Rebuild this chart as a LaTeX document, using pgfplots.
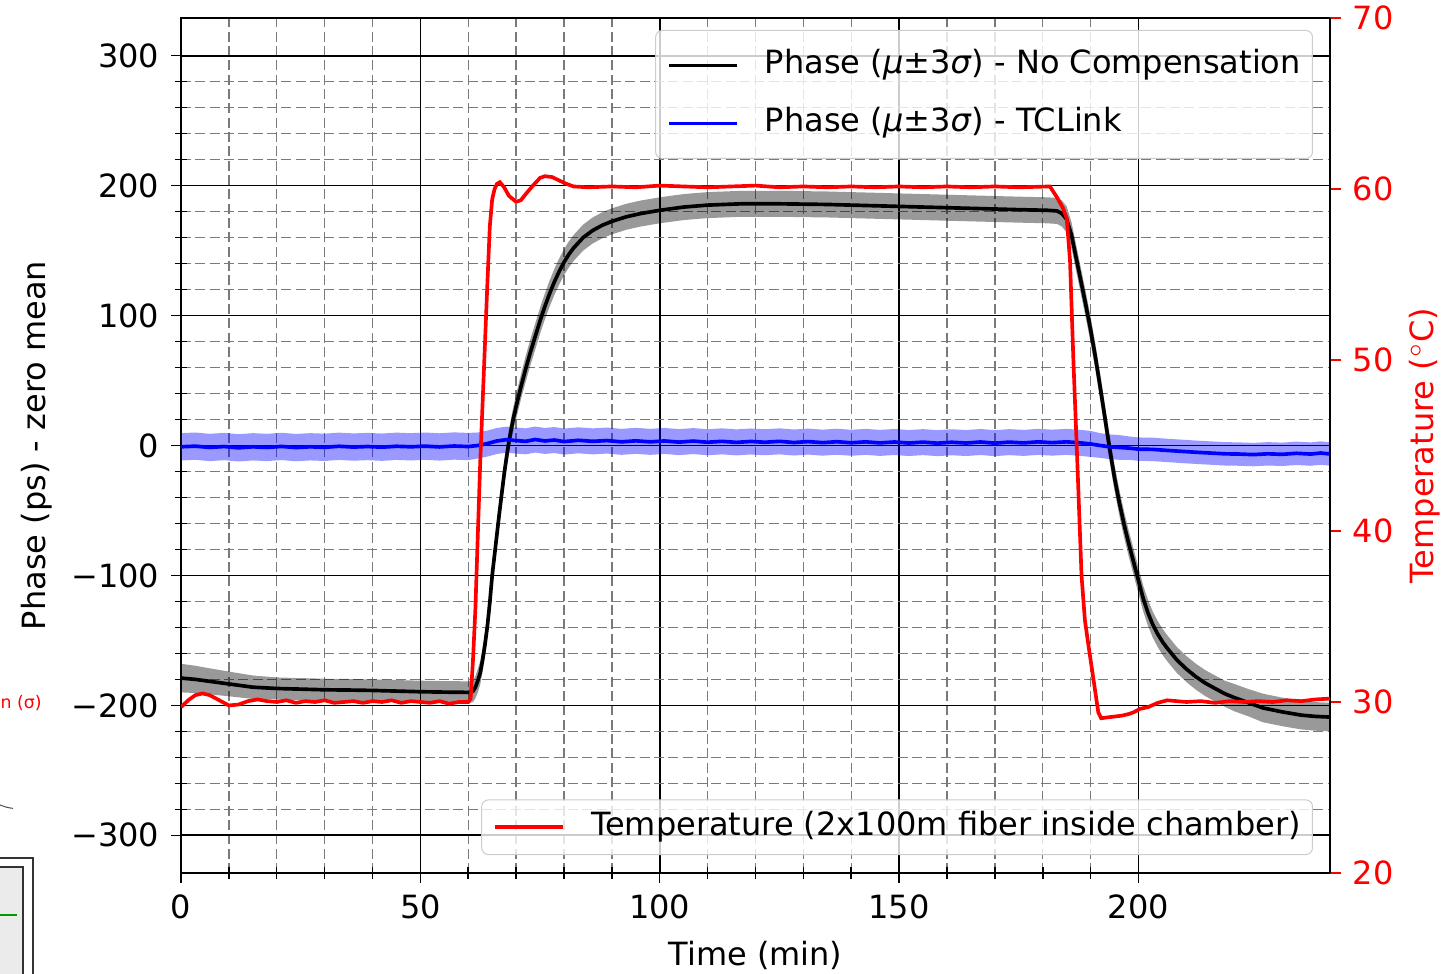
\documentclass[border=0pt]{standalone}
\usepackage{pgfplots}
\pgfplotsset{compat=1.18}
\usepackage{pgfplotstable}
\usepgfplotslibrary{fillbetween}
\usepackage{fontspec}
\setmainfont{DejaVu Sans}

\pgfplotstableread{
x m s
0 -179 11
3 -180 10.5
6 -181.5 10
10 -183.5 9.5
15 -186 9
20 -187 8.5
25 -187.5 8.5
30 -188 8.5
35 -188.2 8.5
40 -188.5 8.5
45 -189 8.5
50 -189.5 8.5
55 -189.8 8.5
60 -190 8.5
61 -189 8.5
61.5 -186 8.5
62 -181 9
62.5 -175 9
63 -165 9
63.5 -153 9
64 -139 9
64.5 -121 9
65 -100 9
65.5 -84 9
66 -68 9
66.5 -52 9
67 -37 9
67.5 -22 9
68 -9 9
68.5 3 9
69 13 9
69.5 22 9
70 30 9.5
71 45 9.5
72 59 10
73 72 10
74 84 10
75 96 10
76 107 10
77 117 10
78 126 10
79 134 10
80 141 10
81 147 10
82 152 10
83 156 10
84 160 10
86 165.5 10
88 169.5 10
90 172.5 10
93 176 10
96 178.5 10
100 181 10
105 183.5 10
110 185 10
117 186 10
125 186 10
135 185.5 10
145 184.5 10
155 183.5 10
165 182.5 10
175 181.5 10
181 181 10
183 180.5 10
184 178.5 10
185 174 10
186 162 10
187 144 10
188 126 10
189 108 10
190 89 10
191 68 10
192 45 10
193 21 10
194 -3 10
195 -25 10
196 -44 10
197 -61 10
198 -76 10
199 -90 10
200 -104 10
201 -118 10
202 -129 10
203 -138 10
204 -145 10
205 -151 10
206 -156 10
208 -165 10
210 -172 10
212 -178 10
214 -183 10
216 -187 10
218 -191 10
220 -194 10.5
223 -198 10.5
226 -202 11
230 -205 11
234 -207.5 11
237 -208.5 11
240 -209 11
}\noComp

\pgfplotstableread{
x m s
0 -1.0 10.5
3 -0.5 10.5
6 -1.5 10.5
9 -0.8 10.5
12 -1.8 10.5
15 -1.0 10.5
18 -1.5 10.5
21 -0.7 10.5
24 -1.6 10.5
27 -1.0 10.5
30 -1.4 10.5
33 -0.6 10.5
36 -1.2 10.5
39 -0.8 10.5
42 -1.3 10.5
45 -0.6 10.5
48 -1.0 10.5
51 -0.5 10.5
54 -1.1 10.5
57 -0.4 10.5
60 -0.8 10.5
62 0.0 10
64 1.5 10
66 3.5 10
68 4.5 10
70 3.8 10
72 3.2 10
74 4.6 10
76 3.5 10
78 4.2 10
80 3.0 10
83 4.0 10
86 3.2 10
89 3.8 10
92 2.8 10
95 3.6 10
98 2.8 10
101 3.5 10
104 2.6 10
107 3.4 10
110 2.5 10
113 3.2 10
116 2.4 10
119 3.1 10
122 2.5 10
125 3.2 10
128 2.3 10
131 3.0 10
134 2.2 10
137 2.9 10
140 2.1 10
143 2.8 10
146 2.0 10
149 2.7 10
152 1.9 10
155 2.6 10
158 1.8 10
161 2.5 10
164 1.9 10
167 2.7 10
170 1.8 10
173 2.6 10
176 2.0 10
179 2.8 10
182 2.2 10
185 2.8 10
188 2.0 10
190 1.2 10
192 0.0 9.5
194 -1.0 9.5
196 -1.5 9.5
198 -2.0 9
200 -2.8 9
203 -3.0 9
206 -3.8 9
209 -4.5 9
212 -5.2 9
215 -5.8 9
218 -6.4 9
221 -6.6 9
224 -7.0 9
227 -6.4 9
230 -6.8 9
233 -6.0 9
236 -6.6 9
238 -5.8 9
240 -6.5 9
}\tcLink

\pgfplotstableread{
x T
0 29.7
1.5 30.1
3 30.4
4.5 30.5
6 30.4
8 30.1
10 29.8
12 29.85
14 30.05
16 30.15
18 30.05
20 30.0
22 30.1
24 29.95
26 30.05
28 30.0
30 30.1
32 29.95
34 30.0
36 30.05
38 29.95
40 30.05
42 30.0
44 30.1
46 29.95
48 30.05
50 30.0
52 29.95
54 30.05
56 29.9
58 30.0
60 30.0
60.5 30.2
61 32.5
61.5 35.5
62 39.8
62.5 44
63 47.5
63.5 51
64 54.5
64.5 57.8
65 59.4
65.5 60.0
66 60.3
66.6 60.4
67.5 60.1
68.5 59.6
70 59.25
71 59.35
72 59.7
73.5 60.2
75 60.65
76 60.75
77.5 60.7
79 60.5
80.5 60.3
82 60.15
85 60.1
90 60.15
95 60.1
100 60.2
105 60.15
110 60.1
115 60.15
120 60.2
125 60.1
130 60.15
135 60.1
140 60.15
145 60.1
150 60.15
155 60.1
160 60.15
165 60.1
170 60.15
175 60.1
181.5 60.15
183 59.5
184.2 58.9
185 58.3
185.7 55.8
186.4 50.0
187.2 44.2
188.1 37.4
188.8 34.8
189.5 33.4
190.5 31.5
191.6 29.4
192.2 29.05
193.5 29.1
195 29.15
196.5 29.2
198 29.3
199 29.4
200.3 29.6
202 29.7
204 29.95
206 30.1
208 30.05
210 30.0
213 30.05
216 29.95
219 30.05
222 30.0
225 30.05
228 30.0
231 30.1
234 30.05
237 30.15
240 30.2
}\temp

\pgfplotsset{
  base/.style={
    width=344.7pt, height=256.5pt, scale only axis,
    at={(0,0)}, anchor=south west,
    xmin=0, xmax=240,
    /pgf/number format/assume math mode=true,
    ticklabel style={font=\fontsize{9.6}{11.5}\selectfont},
    legend cell align=left,
    legend image code/.code={\draw[##1, line width=1.1pt] (0pt,0pt) -- (20.4pt,0pt);},
  },
}

\begin{document}
\begin{tikzpicture}[font=\fontsize{9.6}{11.5}\selectfont]

\begin{axis}[base,
  set layers,
  ymin=-329, ymax=329,
  xtick={0,50,100,150,200},
  ytick={-300,-200,-100,0,100,200,300},
  yticklabels={−300,−200,−100,0,100,200,300},
  minor x tick num=4, minor y tick num=4,
  grid=both,
  major grid style={black, line width=0.5pt},
  minor grid style={black!52, dash pattern=on 3pt off 1.3pt, line width=0.42pt},
  axis line style={black, line width=0.5pt},
  tick align=center,
  major tick length=6pt, minor tick length=3.6pt,
  tick style={black, line width=0.45pt},
  xtick pos=bottom, ytick pos=left,
  xlabel={Time (min)},
  ylabel={Phase (ps) - zero mean},
  xlabel style={at={(axis description cs:0.5,-0.097)}, anchor=center},
  ylabel style={at={(axis description cs:-0.1253,0.5)}, anchor=center},
  legend style={at={(0.9852,0.986)}, anchor=north east,
    fill=white, fill opacity=0.8, text opacity=1, draw opacity=1,
    draw=black!20, line width=0.3pt, rounded corners=2pt,
    inner xsep=3.5pt, inner ysep=1.8pt,
    nodes={inner xsep=0pt, inner ysep=3.8pt, text height=7.4pt, text depth=2.4pt},
    /tikz/every odd column/.append style={column sep=7.8pt},
    font=\fontsize{9.6}{11.5}\selectfont},
]
\addplot[draw=none, name path=nu, forget plot] table[x=x, y expr=\thisrow{m}+\thisrow{s}] {\noComp};
\addplot[draw=none, name path=nl, forget plot] table[x=x, y expr=\thisrow{m}-\thisrow{s}] {\noComp};
\addplot[fill=black, fill opacity=0.4, draw=none, forget plot, on layer=axis background] fill between[of=nu and nl];
\addplot[draw=none, name path=tu, forget plot] table[x=x, y expr=\thisrow{m}+\thisrow{s}] {\tcLink};
\addplot[draw=none, name path=tl, forget plot] table[x=x, y expr=\thisrow{m}-\thisrow{s}] {\tcLink};
\addplot[fill=blue, fill opacity=0.4, draw=none, forget plot, on layer=axis background] fill between[of=tu and tl];
\addplot[black, line width=1.1pt] table[x=x, y=m] {\noComp};
\addlegendentry{Phase (\textit{μ}±3\textit{σ}) - No Compensation}
\addplot[blue, line width=1.1pt] table[x=x, y=m] {\tcLink};
\addlegendentry{Phase (\textit{μ}±3\textit{σ}) - TCLink}
\end{axis}

\begin{axis}[base,
  ymin=20, ymax=70,
  axis x line=none,
  axis y line*=right,
  axis line style={black, line width=0.5pt},
  ytick={20,30,40,50,60,70},
  tick align=outside, major tick length=3.3pt,
  ytick style={red, line width=0.45pt},
  yticklabel style={red},
  ylabel={Temperature ($^\circ$C)},
  ylabel style={red, at={(axis description cs:1.0827,0.5)}, anchor=center},
  legend style={at={(0.9852,0.021)}, anchor=south east,
    fill=white, fill opacity=0.8, text opacity=1, draw opacity=1,
    draw=black!20, line width=0.3pt, rounded corners=2pt,
    inner xsep=3.5pt, inner ysep=1.8pt,
    nodes={inner xsep=0pt, inner ysep=1.5pt, text height=7.4pt, text depth=2.4pt},
    /tikz/every odd column/.append style={column sep=7.8pt},
    font=\fontsize{9.6}{11.5}\selectfont},
]
\addplot[red, line width=1.1pt] table[x=x, y=T] {\temp};
\addlegendentry{Temperature (2x100m fiber inside chamber)}
\end{axis}

% fragments of a neighbouring figure at the left edge
\node[anchor=east, red, inner sep=0pt, font=\fontsize{5.2}{6}\selectfont\rmfamily] at (-41.6pt,51pt) {n (σ)};
\draw[black!70, line width=0.3pt] (-54.3pt,20.4pt) .. controls (-52pt,19.6pt) .. (-50.4pt,19.4pt);
\draw[black!80, line width=0.4pt] (-60pt,4.5pt) -- (-44.4pt,4.5pt) -- (-44.4pt,-31pt);
\fill[black!8] (-60pt,1.8pt) rectangle (-47.4pt,-31pt);
\draw[black!80, line width=0.4pt] (-60pt,1.8pt) -- (-47.4pt,1.8pt) -- (-47.4pt,-31pt);
\draw[green!60!black, line width=0.4pt] (-60pt,-12.6pt) -- (-49.2pt,-12.6pt);

\pgfresetboundingbox
\useasboundingbox (-54.3pt,-30.3pt) rectangle (380.4pt,261.9pt);
\end{tikzpicture}
\end{document}
